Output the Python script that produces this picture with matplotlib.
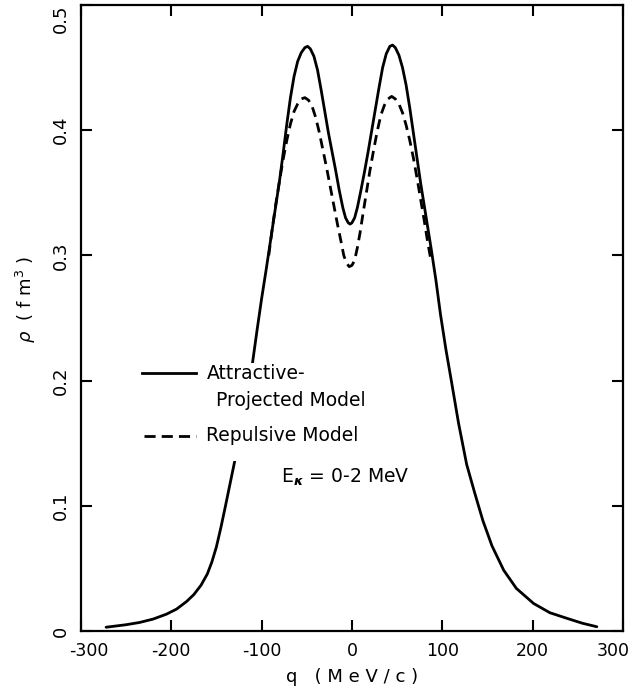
import matplotlib
matplotlib.use("Agg")
import matplotlib.pyplot as plt
from matplotlib.patches import Rectangle
from matplotlib.transforms import ScaledTranslation

# Attractive-projected model (solid)
q_attr = [-272, -250, -235, -220, -205, -194, -183, -175, -167, -160, -155, -150,
          -145, -140, -135, -130, -125, -120, -115, -110, -105, -100, -95, -90,
          -85, -80, -76, -72, -68, -64, -60, -56, -52, -49, -46, -42, -38, -34,
          -30, -26, -22, -18, -14, -10, -7, -4, -2, 0, 3, 6, 10, 14, 18, 22, 26,
          30, 34, 38, 42, 45, 48, 52, 56, 60, 64, 68, 72, 76, 80, 84, 88, 93,
          98, 104, 110, 118, 127, 136, 145, 155, 168, 182, 201, 219, 238, 255,
          271]
rho_attr = [0.0030, 0.0050, 0.0068, 0.0095, 0.0135, 0.0175, 0.0235, 0.0290, 0.0365,
            0.0455, 0.0550, 0.0670, 0.0825, 0.0995, 0.1170, 0.1345, 0.1540, 0.1740,
            0.1940, 0.2140, 0.2400, 0.2650, 0.2880, 0.3120, 0.3360, 0.3600, 0.3820,
            0.4050, 0.4260, 0.4430, 0.4550, 0.4620, 0.4660, 0.4670, 0.4650, 0.4590,
            0.4480, 0.4320, 0.4150, 0.3980, 0.3830, 0.3680, 0.3520, 0.3380, 0.3300,
            0.3260, 0.3250, 0.3260, 0.3300, 0.3380, 0.3520, 0.3670, 0.3830, 0.4000,
            0.4170, 0.4340, 0.4500, 0.4610, 0.4670, 0.4680, 0.4660, 0.4600, 0.4500,
            0.4360, 0.4180, 0.3980, 0.3780, 0.3580, 0.3400, 0.3220, 0.3040, 0.2800,
            0.2530, 0.2250, 0.2000, 0.1660, 0.1330, 0.1100, 0.0880, 0.0680, 0.0485,
            0.0340, 0.0220, 0.0146, 0.0101, 0.0062, 0.0034]

# Repulsive model (dashed)
q_rep = [-92, -88, -84, -80, -76, -72, -68, -64, -60, -56, -52, -48, -44, -40,
         -36, -32, -28, -24, -20, -16, -12, -9, -6, -3, 0, 3, 6, 9, 12, 16, 20,
         24, 28, 32, 36, 40, 44, 48, 52, 56, 60, 64, 68, 72, 76, 80, 84, 87]
rho_rep = [0.300, 0.322, 0.342, 0.360, 0.377, 0.392, 0.405, 0.415, 0.421, 0.425,
           0.426, 0.424, 0.419, 0.410, 0.398, 0.384, 0.370, 0.355, 0.340, 0.325,
           0.311, 0.300, 0.294, 0.291, 0.292, 0.296, 0.306, 0.318, 0.332, 0.350,
           0.368, 0.384, 0.399, 0.412, 0.420, 0.425, 0.427, 0.425, 0.421, 0.414,
           0.404, 0.392, 0.378, 0.362, 0.345, 0.328, 0.310, 0.298]

x_ticks = [-300, -200, -100, 0, 100, 200, 300]
x_ticklabels = ["-300", "-200", "-100", "0", "100", "200", "300"]
y_ticks = [0, 0.1, 0.2, 0.3, 0.4, 0.5]
y_ticklabels = ["0", "0.1", "0.2", "0.3", "0.4", "0.5"]

fig = plt.figure(figsize=(6.36, 6.96), dpi=100)
ax = fig.add_axes([0.127, 0.0934, 0.8526, 0.8994])

ax.plot(q_attr, rho_attr, color="black", lw=2.0, solid_joinstyle="round",
        solid_capstyle="round", zorder=2)
ax.plot(q_rep, rho_rep, color="black", lw=2.0, ls=(0, (3.6, 2.2)),
        dash_joinstyle="round", zorder=2)

ax.set_xlim(-300, 300)
ax.set_ylim(0, 0.5)
ax.set_xticks(x_ticks)
ax.set_xticklabels(x_ticklabels, fontsize=12.5)
ax.set_yticks(y_ticks)
ax.set_yticklabels(y_ticklabels, fontsize=13, rotation=90, va="center")
ax.tick_params(axis="both", direction="in", length=8, width=1.5,
               top=True, right=True)
ax.tick_params(axis="x", pad=8)
ax.tick_params(axis="y", pad=8)
for s in ax.spines.values():
    s.set_linewidth(1.6)

# nudge the end tick labels inward, as in the original
xl = ax.get_xticklabels()
xl[0].set_transform(xl[0].get_transform() + ScaledTranslation(8 / 100, 0, fig.dpi_scale_trans))
xl[-1].set_transform(xl[-1].get_transform() + ScaledTranslation(-10 / 100, 0, fig.dpi_scale_trans))
yl = ax.get_yticklabels()
yl[-1].set_transform(yl[-1].get_transform() + ScaledTranslation(0, -14 / 100, fig.dpi_scale_trans))

# white area that interrupts the curve behind the key text
ax.add_patch(Rectangle((-162, 0.136), 210, 0.078, facecolor="white",
                       edgecolor="none", zorder=3))

# key
ax.plot([-232, -173], [0.206, 0.206], color="black", lw=2.0, zorder=4)
ax.plot([-230, -173], [0.156, 0.156], color="black", lw=2.0,
        ls=(0, (4, 2.2)), zorder=4)
tk = dict(fontsize=13.5, color="black", zorder=5, va="center", ha="left")
ax.text(-161, 0.206, "Attractive-", **tk)
ax.text(-150, 0.184, "Projected Model", **tk)
ax.text(-161, 0.156, "Repulsive Model", **tk)
ax.text(-78, 0.1225, r"E$_{\boldsymbol{\kappa}}$ = 0-2 MeV", **tk)

ax.set_xlabel("q   ( M e V / c )", fontsize=13, labelpad=6)
ax.set_ylabel(r"$\rho$  ( f m$^3$ )", fontsize=13, labelpad=6)
ax.yaxis.set_label_coords(-0.078, 0.53)

fig.savefig("out.png", dpi=100)
